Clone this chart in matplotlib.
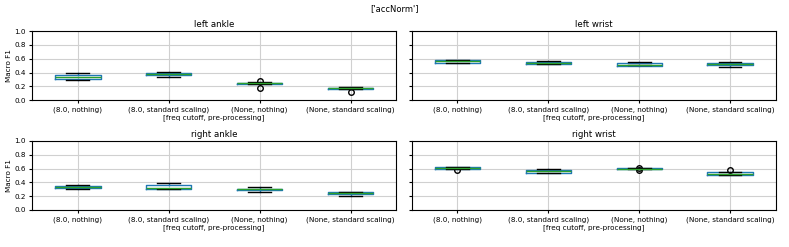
import matplotlib.pyplot as plt

# group labels (freq cutoff, pre-processing)
groups = ["(8.0, nothing)", "(8.0, standard scaling)", "(None, nothing)", "(None, standard scaling)"]
panels = ["left ankle", "left wrist", "right ankle", "right wrist"]

# box stats per panel: [whislo, q1, med, q3, whishi] for each group
left_ankle = [[0.29, 0.31, 0.33, 0.36, 0.39],
              [0.33, 0.36, 0.38, 0.39, 0.41],
              [0.23, 0.24, 0.245, 0.255, 0.26],
              [0.16, 0.16, 0.17, 0.18, 0.19]]
left_wrist = [[0.54, 0.545, 0.565, 0.58, 0.585],
              [0.52, 0.52, 0.535, 0.555, 0.565],
              [0.51, 0.50, 0.515, 0.535, 0.55],
              [0.48, 0.505, 0.52, 0.54, 0.55]]
right_ankle = [[0.30, 0.32, 0.33, 0.35, 0.36],
               [0.30, 0.31, 0.315, 0.36, 0.39],
               [0.265, 0.285, 0.30, 0.31, 0.338],
               [0.207, 0.23, 0.245, 0.26, 0.265]]
right_wrist = [[0.60, 0.60, 0.61, 0.615, 0.62],
               [0.53, 0.54, 0.56, 0.585, 0.59],
               [0.595, 0.595, 0.60, 0.605, 0.605],
               [0.51, 0.51, 0.525, 0.545, 0.545]]
# outliers per panel/group
left_ankle_fliers = [[], [], [0.28, 0.17], [0.12]]
left_wrist_fliers = [[], [], [], []]
right_ankle_fliers = [[], [], [], []]
right_wrist_fliers = [[0.575], [], [0.61, 0.58], [0.575]]

data = [left_ankle, left_wrist, right_ankle, right_wrist]
fliers = [left_ankle_fliers, left_wrist_fliers, right_ankle_fliers, right_wrist_fliers]

fig, axes = plt.subplots(2, 2, figsize=(7.89, 2.47), dpi=100, sharey=True)
fig.subplots_adjust(left=0.041, right=0.983, top=0.874, bottom=0.150,
                    wspace=0.044, hspace=0.59)

for ax, name, stats, fl in zip(axes.flat, panels, data, fliers):
    bxp_stats = []
    for lab, s, f in zip(groups, stats, fl):
        bxp_stats.append(dict(label=lab, whislo=s[0], q1=s[1], med=s[2],
                              q3=s[3], whishi=s[4], fliers=f))
    ax.bxp(bxp_stats, widths=0.5,
           boxprops=dict(color='C0'),
           whiskerprops=dict(color='C0'),
           medianprops=dict(color='C2'),
           capprops=dict(color='k'),
           flierprops=dict(marker='o', markerfacecolor='none',
                           markeredgecolor='k', markersize=4))
    ax.set_title(name, fontsize=6.2, pad=3)
    ax.set_xlabel("[freq cutoff, pre-processing]", fontsize=5.2, labelpad=1)
    ax.grid(True, color='#d0d0d0', linewidth=0.8)
    ax.set_axisbelow(True)
    ax.tick_params(labelsize=5.2, length=2.5, pad=2)
    ax.set_ylim(0, 1.0)
    ax.set_yticks([0.0, 0.2, 0.4, 0.6, 0.8, 1.0])

for ax in axes[:, 0]:
    ax.set_ylabel("Macro F1", fontsize=5.2, labelpad=2)

fig.suptitle("['accNorm']", fontsize=6, y=0.985)
fig.savefig("out.png", dpi=100)
